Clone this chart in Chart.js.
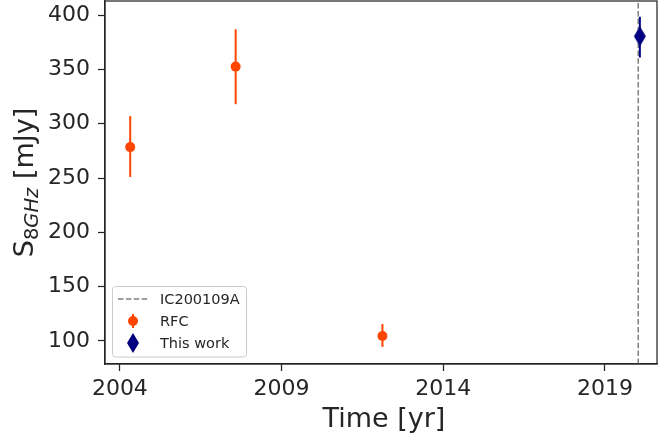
<!DOCTYPE html>
<html><head><meta charset="utf-8">
<script src="https://cdn.jsdelivr.net/npm/chart.js@4"></script>
<style>html,body{margin:0;padding:0;background:#fff;}#wrap{width:658px;height:441px;}</style>
</head><body><div id="wrap"><canvas id="c" width="658" height="441"></canvas></div>
<script>
// ---- data ----
const rfcYears = [2004.32, 2007.58, 2012.12];
const rfcFlux = [278.5, 352.6, 104.6];
const rfcErrLow = [251, 318, 94.5];
const rfcErrHigh = [307, 387, 115.6];
const thisWorkYears = [2020.08];
const thisWorkFlux = [380.5];
const thisWorkErrLow = [361];
const thisWorkErrHigh = [398.5];
const neutrinoYear = 2020.03;
const neutrinoName = 'IC200109A';
const xTickValues = [2004, 2009, 2014, 2019];
const yTickValues = [100, 150, 200, 250, 300, 350, 400];
const xRange = [2003.54, 2020.61];
const yRange = [78.8, 413];
const legendLabels = [neutrinoName, 'RFC', 'This work'];

// ---- style ----
const FONT = "'DejaVu Sans', sans-serif";
const TEXT = '#262626';
const ORANGE = '#FF4500';
const NAVY = '#000080';
const GREY = '#808080';

function makeDiamond(w, h, color) {
  const c = document.createElement('canvas');
  c.width = w + 2; c.height = h + 2;
  const g = c.getContext('2d');
  g.fillStyle = color;
  g.beginPath();
  g.moveTo(c.width / 2, 1);
  g.lineTo(c.width - 1, c.height / 2);
  g.lineTo(c.width / 2, c.height - 1);
  g.lineTo(1, c.height / 2);
  g.closePath();
  g.fill();
  return c;
}
const diamond = makeDiamond(12, 20, NAVY);

const toPts = (xs, ys) => xs.map((x, i) => ({ x: x, y: ys[i] }));
const noPad = s => { s.paddingTop = 0; s.paddingBottom = 0; s.paddingLeft = 0; s.paddingRight = 0; };

const extras = {
  id: 'extras',
  afterDatasetDraw(chart, args) {
    if (args.index !== 0) return; // after the dashed line: draw error bars
    const { ctx, scales: { x, y } } = chart;
    ctx.save();
    ctx.lineWidth = 2;
    chart.data.datasets.forEach(ds => {
      if (!ds.errLow) return;
      ctx.strokeStyle = ds.errColor;
      ds.data.forEach((p, i) => {
        const px = x.getPixelForValue(p.x);
        ctx.beginPath();
        ctx.moveTo(px, y.getPixelForValue(ds.errLow[i]));
        ctx.lineTo(px, y.getPixelForValue(ds.errHigh[i]));
        ctx.stroke();
      });
    });
    ctx.restore();
  },
  afterDraw(chart) {
    const { ctx, chartArea: a } = chart;
    ctx.save();
    // frame
    ctx.strokeStyle = TEXT; ctx.lineWidth = 1.25;
    ctx.strokeRect(a.left, a.top, a.right - a.left, a.bottom - a.top);

    // x title
    ctx.fillStyle = TEXT;
    ctx.font = `27px ${FONT}`;
    ctx.textAlign = 'center'; ctx.textBaseline = 'alphabetic';
    ctx.fillText('Time [yr]', (a.left + a.right) / 2 + 3, 427);

    // y title with subscript
    const big = 27, small = 19.5;
    const parts = [
      { t: 'S', f: `${big}px ${FONT}`, dy: 0 },
      { t: '8', f: `${small}px ${FONT}`, dy: 5 },
      { t: 'GHz', f: `italic ${small}px ${FONT}`, dy: 5 },
      { t: ' [mJy]', f: `${big}px ${FONT}`, dy: 0 }
    ];
    let total = 0;
    parts.forEach(p => { ctx.font = p.f; p.w = ctx.measureText(p.t).width; total += p.w; });
    ctx.translate(33, (a.top + a.bottom) / 2);
    ctx.rotate(-Math.PI / 2);
    ctx.textAlign = 'left';
    let cx = -total / 2;
    parts.forEach(p => { ctx.font = p.f; ctx.fillText(p.t, cx, p.dy); cx += p.w; });
    ctx.setTransform(1, 0, 0, 1, 0, 0);

    // legend
    const bx = 112.5, by = 286.5, bw = 134, bh = 70.5, r = 3;
    ctx.beginPath();
    ctx.moveTo(bx + r, by);
    ctx.arcTo(bx + bw, by, bx + bw, by + bh, r);
    ctx.arcTo(bx + bw, by + bh, bx, by + bh, r);
    ctx.arcTo(bx, by + bh, bx, by, r);
    ctx.arcTo(bx, by, bx + bw, by, r);
    ctx.closePath();
    ctx.fillStyle = 'rgba(255,255,255,0.8)'; ctx.fill();
    ctx.strokeStyle = '#cccccc'; ctx.lineWidth = 1; ctx.stroke();

    const rows = [299, 321, 343];
    // dashed line handle
    ctx.strokeStyle = GREY; ctx.lineWidth = 1.5; ctx.setLineDash([5.5, 2.4]);
    ctx.beginPath(); ctx.moveTo(118, rows[0]); ctx.lineTo(148, rows[0]); ctx.stroke();
    ctx.setLineDash([]);
    // RFC handle
    ctx.strokeStyle = ORANGE; ctx.lineWidth = 2;
    ctx.beginPath(); ctx.moveTo(133, rows[1] - 7); ctx.lineTo(133, rows[1] + 7); ctx.stroke();
    ctx.fillStyle = ORANGE;
    ctx.beginPath(); ctx.arc(133, rows[1], 5, 0, Math.PI * 2); ctx.fill();
    // This work handle
    ctx.drawImage(diamond, 133 - diamond.width / 2, rows[2] - diamond.height / 2);
    // texts
    ctx.fillStyle = TEXT; ctx.font = `14.5px ${FONT}`;
    ctx.textAlign = 'left'; ctx.textBaseline = 'middle';
    legendLabels.forEach((t, i) => ctx.fillText(t, 160, rows[i] + 1));
    ctx.restore();
  }
};

new Chart(document.getElementById('c'), {
  type: 'scatter',
  data: {
    datasets: [
      {
        label: neutrinoName,
        data: [{ x: neutrinoYear, y: yRange[0] }, { x: neutrinoYear, y: yRange[1] }],
        showLine: true, borderColor: GREY, borderWidth: 1.5, borderDash: [5.5, 2.4],
        pointRadius: 0, order: 3
      },
      {
        label: 'RFC',
        data: toPts(rfcYears, rfcFlux),
        errLow: rfcErrLow, errHigh: rfcErrHigh, errColor: ORANGE,
        pointStyle: 'circle', pointRadius: 5, backgroundColor: ORANGE, borderWidth: 0, order: 2
      },
      {
        label: 'This work',
        data: toPts(thisWorkYears, thisWorkFlux),
        errLow: thisWorkErrLow, errHigh: thisWorkErrHigh, errColor: NAVY,
        pointStyle: diamond, pointRadius: 10, backgroundColor: NAVY, borderWidth: 0, order: 1
      }
    ]
  },
  options: {
    responsive: false, animation: false, events: [],
    layout: { autoPadding: false, padding: { top: 1, right: 1, left: 0, bottom: 0 } },
    plugins: { legend: { display: false }, tooltip: { enabled: false } },
    scales: {
      x: {
        type: 'linear', min: xRange[0], max: xRange[1],
        afterBuildTicks: s => { s.ticks = xTickValues.map(v => ({ value: v })); },
        afterFit: s => { s.height = 77; noPad(s); },
        ticks: { font: { family: FONT, size: 22 }, color: TEXT, padding: 5, maxRotation: 0, autoSkip: false, callback: v => String(v) },
        grid: { display: true, drawOnChartArea: false, drawTicks: true, tickLength: 7, tickWidth: 1.25, tickColor: TEXT },
        border: { display: true, color: TEXT, width: 1.25 }
      },
      y: {
        type: 'linear', min: yRange[0], max: yRange[1],
        afterBuildTicks: s => { s.ticks = yTickValues.map(v => ({ value: v })); },
        afterFit: s => { s.width = 105; noPad(s); },
        ticks: { font: { family: FONT, size: 22 }, color: TEXT, padding: 8, autoSkip: false, callback: v => String(v) },
        grid: { display: true, drawOnChartArea: false, drawTicks: true, tickLength: 7, tickWidth: 1.25, tickColor: TEXT },
        border: { display: true, color: TEXT, width: 1.25 }
      }
    }
  },
  plugins: [extras]
});
</script>
</body></html>
